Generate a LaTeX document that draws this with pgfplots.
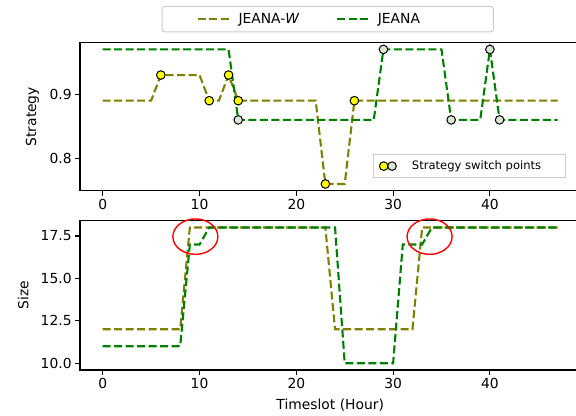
\documentclass[border=0pt]{standalone}
\usepackage{fontspec}
\setmainfont{DejaVu Sans}
\usepackage{pgfplots}
\pgfplotsset{compat=1.18}
\usepackage{pgfplotstable}

\definecolor{olivec}{HTML}{808000}
\definecolor{greenc}{HTML}{008000}
\definecolor{mkyellow}{HTML}{FFFF00}
\definecolor{mkgreen}{HTML}{D8E6D2}
\definecolor{legframe}{HTML}{CCCCCC}

% strategy per timeslot
\pgfplotstableread{
t  jw    j
0  0.89  0.97
1  0.89  0.97
2  0.89  0.97
3  0.89  0.97
4  0.89  0.97
5  0.89  0.97
6  0.93  0.97
7  0.93  0.97
8  0.93  0.97
9  0.93  0.97
10 0.93  0.97
11 0.89  0.97
12 0.89  0.97
13 0.93  0.97
14 0.89  0.86
15 0.89  0.86
16 0.89  0.86
17 0.89  0.86
18 0.89  0.86
19 0.89  0.86
20 0.89  0.86
21 0.89  0.86
22 0.89  0.86
23 0.76  0.86
24 0.76  0.86
25 0.76  0.86
26 0.89  0.86
27 0.89  0.86
28 0.89  0.86
29 0.89  0.97
30 0.89  0.97
31 0.89  0.97
32 0.89  0.97
33 0.89  0.97
34 0.89  0.97
35 0.89  0.97
36 0.89  0.86
37 0.89  0.86
38 0.89  0.86
39 0.89  0.86
40 0.89  0.97
41 0.89  0.86
42 0.89  0.86
43 0.89  0.86
44 0.89  0.86
45 0.89  0.86
46 0.89  0.86
47 0.89  0.86
}\strat

% size per timeslot
\pgfplotstableread{
t  jw  j
0  12  11
1  12  11
2  12  11
3  12  11
4  12  11
5  12  11
6  12  11
7  12  11
8  12  11
9  18  17
10 18  17
11 18  18
12 18  18
13 18  18
14 18  18
15 18  18
16 18  18
17 18  18
18 18  18
19 18  18
20 18  18
21 18  18
22 18  18
23 18  18
24 12  18
25 12  10
26 12  10
27 12  10
28 12  10
29 12  10
30 12  10
31 12  17
32 12  17
33 18  17
34 18  18
35 18  18
36 18  18
37 18  18
38 18  18
39 18  18
40 18  18
41 18  18
42 18  18
43 18  18
44 18  18
45 18  18
46 18  18
47 18  18
}\sizes

\pgfplotsset{
  base/.style={
    scale only axis, width=500.4bp, anchor=south west,
    xmin=-2.35, xmax=49.35,
    xtick={0,10,20,30,40},
    xtick pos=bottom, ytick pos=left, tick align=outside,
    major tick length=4.9bp,
    axis line style={line width=1.1bp, black},
    tick style={line width=1.1bp, black},
    tick label style={font=\fontsize{13.9}{16}\selectfont},
    /pgf/number format/assume math mode=true,
    yticklabel style={/pgf/number format/.cd, fixed, fixed zerofill, precision=1},
    every axis x label/.append style={font=\fontsize{13.9}{16}\selectfont},
    every axis y label/.append style={anchor=center, font=\fontsize{13.9}{16}\selectfont},
    legend image code/.code={\draw[#1] (0bp,0bp) -- (33bp,0bp);},
  },
  ln/.style={line width=2.1bp, dash pattern=on 8bp off 3.5bp},
  mk/.style={only marks, mark=*, mark size=4.3bp,
    mark options={solid, draw=black, line width=1bp, fill=#1}},
}

\begin{document}
\begin{tikzpicture}
\path[use as bounding box] (0bp,0bp) rectangle (576bp,416bp);

\begin{axis}[base, at={(80bp,225.3bp)}, height=148bp,
    ymin=0.7495, ymax=0.9805, ytick={0.8,0.9},
    ylabel={Strategy}, ylabel style={at={(axis description cs:-0.0953,0.5)}},
    legend style={at={(0.586,0.248)}, anchor=north west,
      draw=legframe, line width=1bp, inner xsep=5.2bp, inner ysep=4.5bp,
      font=\fontsize{11.6}{13}\selectfont},
  ]
  \addplot[ln, olivec, forget plot] table[x=t, y=jw] {\strat};
  \addplot[ln, greenc, forget plot] table[x=t, y=j] {\strat};
  \addplot[mk=mkyellow, forget plot] coordinates {(6,0.93) (11,0.89) (13,0.93) (14,0.89) (23,0.76) (26,0.89)};
  \addplot[mk=mkgreen, forget plot] coordinates {(14,0.86) (29,0.97) (36,0.86) (40,0.97) (41,0.86)};
  \addlegendimage{legend image code/.code={
      \path[draw=none] (0bp,0bp) -- (30.5bp,0bp);
      \draw[black, solid, line width=1bp, fill=mkyellow] (4.3bp,0bp) circle (4.3bp);
      \draw[black, solid, line width=1bp, fill=mkgreen] (12.6bp,0bp) circle (4.3bp);}}
  \addlegendentry{\makebox[146bp][l]{Strategy switch points}}
\end{axis}

\begin{axis}[base, at={(80bp,46bp)}, height=149.3bp,
    ymin=9.6, ymax=18.4, ytick={10,12.5,15,17.5},
    ylabel={Size}, ylabel style={at={(axis description cs:-0.1133,0.5)}},
    xlabel={Timeslot (Hour)},
    xlabel style={at={(axis description cs:0.5,0)}, anchor=center, yshift=-35bp},
    legend columns=2,
    legend style={at={(0.495,2.350)}, anchor=center,
      draw=legframe, line width=1bp, rounded corners=3bp,
      inner xsep=34.7bp, inner ysep=5bp,
      font=\fontsize{13.9}{16}\selectfont,
      /tikz/every even column/.append style={column sep=17bp}},
  ]
  \addplot[ln, olivec] table[x=t, y=jw] {\sizes};
  \addlegendentry{\hspace*{4.6bp}\makebox[78.7bp][l]{JEANA-\textit{W}}}
  \addplot[ln, greenc] table[x=t, y=j] {\sizes};
  \addlegendentry{\hspace*{4.6bp}\makebox[78.7bp][l]{JEANA}}
  \coordinate (e1) at (axis cs:9.57,17.46);
  \coordinate (e2) at (axis cs:33.77,17.46);
\end{axis}

\draw[red, line width=1.4bp] (e1) ellipse [x radius=22.5bp, y radius=17.7bp];
\draw[red, line width=1.4bp] (e2) ellipse [x radius=22.5bp, y radius=17.7bp];
\end{tikzpicture}
\end{document}
